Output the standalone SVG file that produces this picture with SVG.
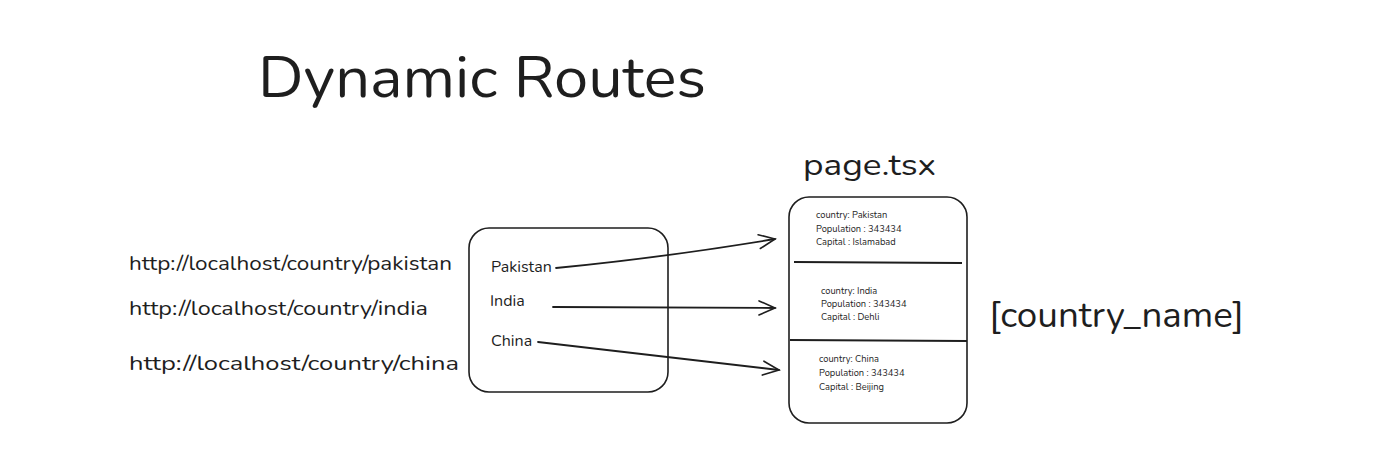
<svg xmlns="http://www.w3.org/2000/svg" width="1373" height="475" viewBox="0 0 1373 475">
<style>
text{font-family:"Nunito","Lato","Open Sans",sans-serif;fill:#1e1e1e}
.box{fill:none;stroke:#1e1e1e;stroke-width:1.6}
.line{fill:none;stroke:#1e1e1e;stroke-width:1.8}
.conn{fill:none;stroke:#1e1e1e;stroke-width:1.8;stroke-linecap:round}
.small{font-size:9.3px}
.lbl{font-size:16px}
</style>
<defs>
<marker id="ah" viewBox="0 0 20 20" refX="18" refY="10" markerWidth="20" markerHeight="20" markerUnits="userSpaceOnUse" orient="auto">
<path d="M2,3 L18,10 L2,17" fill="none" stroke="#1e1e1e" stroke-width="1.6" stroke-linecap="round"/>
</marker>
</defs>
<rect width="1373" height="475" fill="#ffffff"/>
<g id="title"><text x="258" y="97" font-size="58" textLength="448" lengthAdjust="spacingAndGlyphs">Dynamic Routes</text></g>
<g id="urls">
<text x="129" y="270" font-size="19" textLength="323" lengthAdjust="spacingAndGlyphs">http://localhost/country/pakistan</text>
<text x="129" y="315" font-size="19" textLength="299" lengthAdjust="spacingAndGlyphs">http://localhost/country/india</text>
<text x="129" y="370" font-size="19" textLength="330" lengthAdjust="spacingAndGlyphs">http://localhost/country/china</text>
</g>
<g id="countries">
<rect class="box" x="469" y="228" width="199" height="164" rx="20"/>
<text class="lbl" x="491" y="272">Pakistan</text>
<text class="lbl" x="490" y="306">India</text>
<text class="lbl" x="491" y="346">China</text>
</g>
<g id="page-label"><text x="803" y="175" font-size="31" textLength="133" lengthAdjust="spacingAndGlyphs">page.tsx</text></g>
<g id="page">
<rect class="box" x="789" y="197" width="178" height="226" rx="20"/>
<line class="line" x1="794" y1="262" x2="962" y2="263"/>
<line class="line" x1="790" y1="340" x2="967" y2="341"/>
<text class="small" x="816" y="218">country: Pakistan</text>
<text class="small" x="816" y="232">Population : 343434</text>
<text class="small" x="816" y="245">Capital : Islamabad</text>
<text class="small" x="821" y="294">country: India</text>
<text class="small" x="821" y="307">Population : 343434</text>
<text class="small" x="821" y="320">Capital : Dehli</text>
<text class="small" x="819" y="362">country: China</text>
<text class="small" x="819" y="376">Population : 343434</text>
<text class="small" x="819" y="390">Capital : Beijing</text>
</g>
<g id="param"><text x="989" y="327" font-size="36" textLength="255" lengthAdjust="spacingAndGlyphs">[country_name]</text></g>
<g id="connectors">
<path class="conn" d="M556,268 Q660,258 775,239" marker-end="url(#ah)"/>
<path class="conn" d="M553,307 L775,308" marker-end="url(#ah)"/>
<path class="conn" d="M538,342 L779,370" marker-end="url(#ah)"/>
</g>
</svg>
